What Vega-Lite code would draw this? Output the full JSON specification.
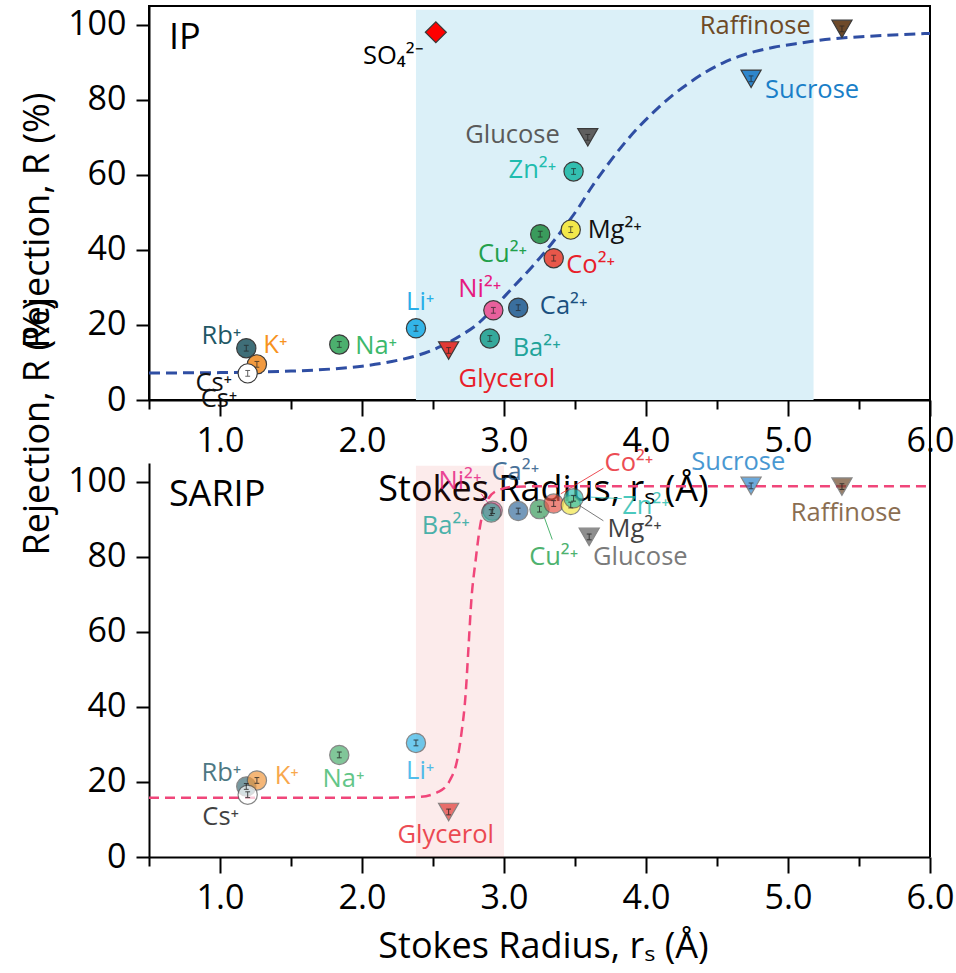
{
  "$schema": "https://vega.github.io/schema/vega-lite/v6.json",
  "padding": {"left": 17, "top": 5, "right": 5, "bottom": 5},
  "bounds": "flush",
  "spacing": 63,
  "config": {
    "font": "Open Sans",
    "view": {"stroke": null},
    "axis": {"grid": false, "domainColor": "#000", "domainWidth": 2, "tickColor": "#000", "tickWidth": 2, "labelFont": "Open Sans", "labelFontSize": 34, "labelColor": "#000", "titleFont": "Open Sans", "titleFontSize": 36, "titleFontWeight": "normal", "titleColor": "#000", "labelFlush": false, "labelOverlap": false, "labelBound": false},
    "text": {"font": "Open Sans"}
  },
  "datasets": {
    "pts": [
      {"p": "IP", "k": "SO4", "s": "anion", "x": 2.52, "y": 98.0},
      {"p": "IP", "k": "Raffinose", "s": "sugar", "x": 5.38, "y": 98.9},
      {"p": "IP", "k": "Sucrose", "s": "sugar", "x": 4.74, "y": 85.6},
      {"p": "IP", "k": "Glucose", "s": "sugar", "x": 3.59, "y": 70.0},
      {"p": "IP", "k": "Glycerol", "s": "sugar", "x": 2.61, "y": 13.2},
      {"p": "IP", "k": "Rb", "s": "ion", "x": 1.185, "y": 13.8},
      {"p": "IP", "k": "K", "s": "ion", "x": 1.26, "y": 9.5},
      {"p": "IP", "k": "Cs", "s": "ion", "x": 1.195, "y": 7.1},
      {"p": "IP", "k": "Na", "s": "ion", "x": 1.84, "y": 14.8},
      {"p": "IP", "k": "Li", "s": "ion", "x": 2.38, "y": 19.1},
      {"p": "IP", "k": "Ba", "s": "ion", "x": 2.90, "y": 16.4},
      {"p": "IP", "k": "Ni", "s": "ion", "x": 2.925, "y": 23.9},
      {"p": "IP", "k": "Ca", "s": "ion", "x": 3.10, "y": 24.6},
      {"p": "IP", "k": "Cu", "s": "ion", "x": 3.255, "y": 44.2},
      {"p": "IP", "k": "Co", "s": "ion", "x": 3.35, "y": 37.8},
      {"p": "IP", "k": "Mg", "s": "ion", "x": 3.47, "y": 45.4},
      {"p": "IP", "k": "Zn", "s": "ion", "x": 3.49, "y": 60.9},
      {"p": "SARIP", "k": "Raffinose", "s": "sugar", "x": 5.38, "y": 98.7},
      {"p": "SARIP", "k": "Sucrose", "s": "sugar", "x": 4.74, "y": 98.9},
      {"p": "SARIP", "k": "Glucose", "s": "sugar", "x": 3.60, "y": 85.3},
      {"p": "SARIP", "k": "Glycerol", "s": "sugar", "x": 2.61, "y": 12.0},
      {"p": "SARIP", "k": "Rb", "s": "ion", "x": 1.185, "y": 18.8},
      {"p": "SARIP", "k": "K", "s": "ion", "x": 1.26, "y": 20.4},
      {"p": "SARIP", "k": "Cs", "s": "ion", "x": 1.195, "y": 16.6},
      {"p": "SARIP", "k": "Na", "s": "ion", "x": 1.84, "y": 27.2},
      {"p": "SARIP", "k": "Li", "s": "ion", "x": 2.38, "y": 30.4},
      {"p": "SARIP", "k": "Ni", "s": "ion", "x": 2.92, "y": 92.3},
      {"p": "SARIP", "k": "Ba", "s": "ion", "x": 2.91, "y": 91.8},
      {"p": "SARIP", "k": "Ca", "s": "ion", "x": 3.10, "y": 92.2},
      {"p": "SARIP", "k": "Cu", "s": "ion", "x": 3.25, "y": 92.7},
      {"p": "SARIP", "k": "Co", "s": "ion", "x": 3.35, "y": 94.2},
      {"p": "SARIP", "k": "Mg", "s": "ion", "x": 3.47, "y": 93.8},
      {"p": "SARIP", "k": "Zn", "s": "ion", "x": 3.49, "y": 95.6}
    ],
    "labels": [
      {"p": "IP", "k": "Raffinose", "t": "Raffinose", "x": 4.77, "y": 99.7},
      {"p": "IP", "k": "Sucrose", "t": "Sucrose", "x": 5.17, "y": 82.5},
      {"p": "IP", "k": "Glucose", "t": "Glucose", "x": 3.06, "y": 70.7},
      {"p": "IP", "k": "Zn", "t": "Zn²⁺", "x": 3.20, "y": 61.2},
      {"p": "IP", "k": "Mg", "t": "Mg²⁺", "x": 3.78, "y": 45.2},
      {"p": "IP", "k": "Cu", "t": "Cu²⁺", "x": 2.99, "y": 38.9},
      {"p": "IP", "k": "Co", "t": "Co²⁺", "x": 3.61, "y": 36.0},
      {"p": "IP", "k": "Ni", "t": "Ni²⁺", "x": 2.83, "y": 29.7},
      {"p": "IP", "k": "Ca", "t": "Ca²⁺", "x": 3.42, "y": 25.1},
      {"p": "IP", "k": "Ba", "t": "Ba²⁺", "x": 3.23, "y": 13.8},
      {"p": "IP", "k": "Li", "t": "Li⁺", "x": 2.41, "y": 26.2},
      {"p": "IP", "k": "Na", "t": "Na⁺", "x": 2.10, "y": 14.4},
      {"p": "IP", "k": "Glycerol", "t": "Glycerol", "x": 3.02, "y": 5.5},
      {"p": "IP", "k": "SO4", "t": "SO₄²⁻", "x": 2.22, "y": 91.6},
      {"p": "IP", "k": "Rb", "t": "Rb⁺", "x": 1.01, "y": 17.1},
      {"p": "IP", "k": "K", "t": "K⁺", "x": 1.39, "y": 14.7},
      {"p": "IP", "k": "Cs", "t": "Cs⁺", "x": 0.956, "y": 4.4},
      {"p": "IP", "k": "Cs", "t": "Cs⁺", "x": 0.993, "y": 0.3},
      {"p": "SARIP", "k": "Ni", "t": "Ni²⁺", "x": 2.69, "y": 100.1},
      {"p": "SARIP", "k": "Ca", "t": "Ca²⁺", "x": 3.08, "y": 102.7},
      {"p": "SARIP", "k": "Co", "t": "Co²⁺", "x": 3.88, "y": 105.0},
      {"p": "SARIP", "k": "Sucrose", "t": "Sucrose", "x": 4.65, "y": 105.2},
      {"p": "SARIP", "k": "Zn", "t": "Zn²⁺", "x": 4.0, "y": 93.5},
      {"p": "SARIP", "k": "Mg", "t": "Mg²⁺", "x": 3.92, "y": 87.5},
      {"p": "SARIP", "k": "Glucose", "t": "Glucose", "x": 3.96, "y": 80.0},
      {"p": "SARIP", "k": "Cu", "t": "Cu²⁺", "x": 3.35, "y": 80.0},
      {"p": "SARIP", "k": "Ba", "t": "Ba²⁺", "x": 2.59, "y": 88.1},
      {"p": "SARIP", "k": "Raffinose", "t": "Raffinose", "x": 5.41, "y": 91.7},
      {"p": "SARIP", "k": "Li", "t": "Li⁺", "x": 2.41, "y": 23.0},
      {"p": "SARIP", "k": "Na", "t": "Na⁺", "x": 1.87, "y": 20.9},
      {"p": "SARIP", "k": "Glycerol", "t": "Glycerol", "x": 2.59, "y": 5.9},
      {"p": "SARIP", "k": "Rb", "t": "Rb⁺", "x": 1.01, "y": 22.4},
      {"p": "SARIP", "k": "K", "t": "K⁺", "x": 1.47, "y": 21.5},
      {"p": "SARIP", "k": "Cs", "t": "Cs⁺", "x": 1.005, "y": 10.7}
    ],
    "leaders": [
      {"k": "Co", "x": 3.70, "y": 103.6, "x2": 3.40, "y2": 96.8},
      {"k": "Cu", "x": 3.34, "y": 84.6, "x2": 3.28, "y2": 90.9},
      {"k": "Glucose", "x": 3.70, "y": 89.6, "x2": 3.53, "y2": 93.7},
      {"k": "Ni", "x": 2.84, "y": 96.8, "x2": 2.90, "y2": 93.7},
      {"k": "Zn", "x": 3.83, "y": 95.5, "x2": 3.61, "y2": 95.9}
    ],
    "curve": [
      {"p": "IP", "x": 0.5, "y": 7.2}, {"p": "IP", "x": 1.0, "y": 7.3}, {"p": "IP", "x": 1.5, "y": 7.7},
      {"p": "IP", "x": 1.8, "y": 8.3}, {"p": "IP", "x": 2.0, "y": 9.0}, {"p": "IP", "x": 2.2, "y": 10.2},
      {"p": "IP", "x": 2.4, "y": 12.0}, {"p": "IP", "x": 2.55, "y": 14.2}, {"p": "IP", "x": 2.7, "y": 17.3},
      {"p": "IP", "x": 2.8, "y": 19.8}, {"p": "IP", "x": 2.915, "y": 24.0}, {"p": "IP", "x": 3.05, "y": 29.5},
      {"p": "IP", "x": 3.2, "y": 35.6}, {"p": "IP", "x": 3.3, "y": 40.0}, {"p": "IP", "x": 3.41, "y": 45.3},
      {"p": "IP", "x": 3.52, "y": 51.0}, {"p": "IP", "x": 3.62, "y": 56.9}, {"p": "IP", "x": 3.72, "y": 62.2},
      {"p": "IP", "x": 3.83, "y": 67.6}, {"p": "IP", "x": 3.95, "y": 72.8}, {"p": "IP", "x": 4.07, "y": 77.3},
      {"p": "IP", "x": 4.18, "y": 81.0}, {"p": "IP", "x": 4.3, "y": 84.4}, {"p": "IP", "x": 4.42, "y": 87.4},
      {"p": "IP", "x": 4.54, "y": 89.8}, {"p": "IP", "x": 4.65, "y": 91.5}, {"p": "IP", "x": 4.77, "y": 92.9},
      {"p": "IP", "x": 4.9, "y": 94.0}, {"p": "IP", "x": 5.08, "y": 95.1}, {"p": "IP", "x": 5.3, "y": 96.2},
      {"p": "IP", "x": 5.55, "y": 96.9}, {"p": "IP", "x": 5.8, "y": 97.4}, {"p": "IP", "x": 6.0, "y": 97.7},
      {"p": "SARIP", "x": 0.5, "y": 15.8}, {"p": "SARIP", "x": 2.14, "y": 15.8}, {"p": "SARIP", "x": 2.4, "y": 16.0},
      {"p": "SARIP", "x": 2.54, "y": 17.4}, {"p": "SARIP", "x": 2.62, "y": 20.5}, {"p": "SARIP", "x": 2.67, "y": 25.8},
      {"p": "SARIP", "x": 2.70, "y": 32.9}, {"p": "SARIP", "x": 2.73, "y": 43.5}, {"p": "SARIP", "x": 2.75, "y": 55.9},
      {"p": "SARIP", "x": 2.77, "y": 68.4}, {"p": "SARIP", "x": 2.80, "y": 79.0}, {"p": "SARIP", "x": 2.83, "y": 87.8},
      {"p": "SARIP", "x": 2.88, "y": 94.9}, {"p": "SARIP", "x": 2.95, "y": 97.6}, {"p": "SARIP", "x": 3.08, "y": 98.7},
      {"p": "SARIP", "x": 3.3, "y": 98.8}, {"p": "SARIP", "x": 6.0, "y": 98.8}
    ],
    "regions": [
      {"p": "IP", "x": 2.38, "x2": 5.18, "y": 0, "y2": 104},
      {"p": "SARIP", "x": 2.38, "x2": 3.0, "y": 0, "y2": 104.3}
    ],
    "frame": [
      {"x": 6.0, "y": 0, "y2": 122}
    ],
    "panels": [
      {"p": "IP", "t": "IP", "x": 0.64, "y": 96.5},
      {"p": "SARIP", "t": "SARIP", "x": 0.64, "y": 96.4}
    ]
  },
  "vconcat": [
    {
      "width": 781,
      "height": 394,
      "view": {"stroke": "#000", "strokeWidth": 2},
      "layer": [
        {
          "data": {"name": "regions"},
          "transform": [{"filter": "datum.p === 'IP'"}],
          "mark": {"type": "rect", "color": "#dbf0f8"},
          "encoding": {
            "x": {"field": "x", "type": "quantitative", "scale": {"domain": [0.5, 6], "nice": false, "zero": false},
              "axis": {"values": [0.5, 1, 1.5, 2, 2.5, 3, 3.5, 4, 4.5, 5, 5.5, 6], "labelExpr": "datum.value % 1 === 0 ? format(datum.value, '.1f') : ''", "tickSize": {"condition": {"test": "datum.value % 1 === 0", "value": 16}, "value": 9}, "labelPadding": 8, "title": "Stokes Radius, rₛ (Å)", "titleY": 89, "titleX": 394, "titleBaseline": "middle"}},
            "x2": {"field": "x2"},
            "y": {"field": "y", "type": "quantitative", "scale": {"domain": [0, 105], "nice": false, "zero": false},
              "axis": {"values": [0, 10, 20, 30, 40, 50, 60, 70, 80, 90, 100], "labelExpr": "datum.value % 20 === 0 ? datum.label : ''", "tickSize": {"condition": {"test": "datum.value % 20 === 0", "value": 13}, "value": 7}, "labelPadding": 10, "title": "Rejection, R (%)", "titleX": -112, "titleY": 214, "titleBaseline": "middle"}},
            "y2": {"field": "y2"}
          }
        },
        {
          "data": {"name": "curve"},
          "transform": [{"filter": "datum.p === 'IP'"}],
          "mark": {"type": "line", "color": "#2f4ea3", "strokeWidth": 3, "strokeDash": [11, 6], "interpolate": "monotone"},
          "encoding": {
            "x": {"field": "x", "type": "quantitative", "scale": {"domain": [0.5, 6], "nice": false, "zero": false}},
            "y": {"field": "y", "type": "quantitative", "scale": {"domain": [0, 105], "nice": false, "zero": false}}
          }
        },
        {
          "data": {"name": "pts"},
          "transform": [{"filter": "datum.p === 'IP'"}],
          "mark": {"type": "point", "filled": true, "stroke": "#3a3a3a", "opacity": 1},
          "encoding": {
            "x": {"field": "x", "type": "quantitative", "scale": {"domain": [0.5, 6], "nice": false, "zero": false}},
            "y": {"field": "y", "type": "quantitative", "scale": {"domain": [0, 105], "nice": false, "zero": false}},
            "shape": {"field": "s", "type": "nominal", "scale": {"domain": ["ion", "sugar", "anion"], "range": ["circle", "triangle-down", "diamond"]}, "legend": null},
            "size": {"field": "s", "type": "nominal", "scale": {"domain": ["ion", "sugar", "anion"], "range": [370, 440, 780]}, "legend": null},
            "strokeWidth": {"field": "s", "type": "nominal", "scale": {"domain": ["ion", "sugar", "anion"], "range": [1.2, 1.2, 0]}, "legend": null},
            "fill": {"field": "k", "type": "nominal", "scale": {"domain": ["Rb", "K", "Cs", "Na", "Li", "Ni", "Ca", "Ba", "Cu", "Co", "Mg", "Zn", "Glycerol", "Glucose", "Sucrose", "Raffinose", "SO4"], "range": ["#3f6e78", "#f29a3f", "#ffffff", "#4caf6e", "#33b5e8", "#e8609c", "#3a6f9e", "#35a99c", "#3a9b5c", "#e8574a", "#f3e84a", "#33bfb0", "#e23a35", "#5f5f5f", "#2e86cc", "#6e4a2a", "#ff0000"]}, "legend": null}
          }
        },
        {
          "data": {"name": "pts"},
          "transform": [{"filter": "datum.p === 'IP' && datum.s !== 'anion'"}],
          "mark": {"type": "point", "filled": false, "stroke": "#222", "strokeWidth": 1, "size": 370, "shape": "M -0.25 -0.3 L 0.25 -0.3 M 0 -0.3 L 0 0.3 M -0.25 0.3 L 0.25 0.3"},
          "encoding": {
            "x": {"field": "x", "type": "quantitative", "scale": {"domain": [0.5, 6], "nice": false, "zero": false}},
            "y": {"field": "y", "type": "quantitative", "scale": {"domain": [0, 105], "nice": false, "zero": false}}
          }
        },
        {
          "data": {"name": "labels"},
          "transform": [{"filter": "datum.p === 'IP'"}],
          "mark": {"type": "text", "fontSize": 25.5, "align": "center", "baseline": "middle"},
          "encoding": {
            "x": {"field": "x", "type": "quantitative", "scale": {"domain": [0.5, 6], "nice": false, "zero": false}},
            "y": {"field": "y", "type": "quantitative", "scale": {"domain": [0, 105], "nice": false, "zero": false}},
            "text": {"field": "t"},
            "color": {"field": "k", "type": "nominal", "scale": {"domain": ["Rb", "K", "Cs", "Na", "Li", "Ni", "Ca", "Ba", "Cu", "Co", "Mg", "Zn", "Glycerol", "Glucose", "Sucrose", "Raffinose", "SO4"], "range": ["#1f5866", "#f7931e", "#111111", "#3cb86b", "#29aee8", "#e6197f", "#1b5080", "#20a39a", "#22a04b", "#e8202a", "#111111", "#1fbcae", "#e8202a", "#5a5a5a", "#1a7fc8", "#6e4a26", "#000000"]}, "legend": null}
          }
        },
        {
          "data": {"name": "panels"},
          "transform": [{"filter": "datum.p === 'IP'"}],
          "mark": {"type": "text", "fontSize": 36, "align": "left", "baseline": "middle", "color": "#000"},
          "encoding": {
            "x": {"field": "x", "type": "quantitative", "scale": {"domain": [0.5, 6], "nice": false, "zero": false}},
            "y": {"field": "y", "type": "quantitative", "scale": {"domain": [0, 105], "nice": false, "zero": false}},
            "text": {"field": "t"}
          }
        }
      ]
    },
    {
      "width": 781,
      "height": 394,
      "layer": [
        {
          "data": {"name": "regions"},
          "transform": [{"filter": "datum.p === 'SARIP'"}],
          "mark": {"type": "rect", "color": "#e84a4a", "opacity": 0.11},
          "encoding": {
            "x": {"field": "x", "type": "quantitative", "scale": {"domain": [0.5, 6], "nice": false, "zero": false},
              "axis": {"values": [0.5, 1, 1.5, 2, 2.5, 3, 3.5, 4, 4.5, 5, 5.5, 6], "labelExpr": "datum.value % 1 === 0 ? format(datum.value, '.1f') : ''", "tickSize": {"condition": {"test": "datum.value % 1 === 0", "value": 16}, "value": 9}, "labelPadding": 8, "title": "Stokes Radius, rₛ (Å)", "titleY": 89, "titleX": 394, "titleBaseline": "middle"}},
            "x2": {"field": "x2"},
            "y": {"field": "y", "type": "quantitative", "scale": {"domain": [0, 105], "nice": false, "zero": false},
              "axis": {"values": [0, 10, 20, 30, 40, 50, 60, 70, 80, 90, 100], "labelExpr": "datum.value % 20 === 0 ? datum.label : ''", "tickSize": {"condition": {"test": "datum.value % 20 === 0", "value": 13}, "value": 7}, "labelPadding": 10, "title": "Rejection, R (%)", "titleX": -112, "titleY": -36, "titleBaseline": "middle"}},
            "y2": {"field": "y2"}
          }
        },
        {
          "data": {"name": "frame"},
          "mark": {"type": "rule", "color": "#000", "strokeWidth": 2},
          "encoding": {
            "x": {"field": "x", "type": "quantitative", "scale": {"domain": [0.5, 6], "nice": false, "zero": false}},
            "y": {"field": "y", "type": "quantitative", "scale": {"domain": [0, 105], "nice": false, "zero": false}},
            "y2": {"field": "y2"}
          }
        },
        {
          "data": {"name": "leaders"},
          "mark": {"type": "rule", "strokeWidth": 1, "opacity": 0.8},
          "encoding": {
            "x": {"field": "x", "type": "quantitative", "scale": {"domain": [0.5, 6], "nice": false, "zero": false}},
            "y": {"field": "y", "type": "quantitative", "scale": {"domain": [0, 105], "nice": false, "zero": false}},
            "x2": {"field": "x2"},
            "y2": {"field": "y2"},
            "color": {"field": "k", "type": "nominal", "scale": {"domain": ["Rb", "K", "Cs", "Na", "Li", "Ni", "Ca", "Ba", "Cu", "Co", "Mg", "Zn", "Glycerol", "Glucose", "Sucrose", "Raffinose", "SO4"], "range": ["#1f5866", "#f7931e", "#111111", "#3cb86b", "#29aee8", "#e6197f", "#1b5080", "#20a39a", "#22a04b", "#e8202a", "#111111", "#1fbcae", "#e8202a", "#5a5a5a", "#1a7fc8", "#6e4a26", "#000000"]}, "legend": null}
          }
        },
        {
          "data": {"name": "curve"},
          "transform": [{"filter": "datum.p === 'SARIP'"}],
          "mark": {"type": "line", "color": "#f0467a", "strokeWidth": 2.5, "strokeDash": [10, 6], "interpolate": "monotone"},
          "encoding": {
            "x": {"field": "x", "type": "quantitative", "scale": {"domain": [0.5, 6], "nice": false, "zero": false}},
            "y": {"field": "y", "type": "quantitative", "scale": {"domain": [0, 105], "nice": false, "zero": false}}
          }
        },
        {
          "data": {"name": "pts"},
          "transform": [{"filter": "datum.p === 'SARIP'"}],
          "mark": {"type": "point", "filled": true, "stroke": "#555", "opacity": 0.7},
          "encoding": {
            "x": {"field": "x", "type": "quantitative", "scale": {"domain": [0.5, 6], "nice": false, "zero": false}},
            "y": {"field": "y", "type": "quantitative", "scale": {"domain": [0, 105], "nice": false, "zero": false}},
            "shape": {"field": "s", "type": "nominal", "scale": {"domain": ["ion", "sugar", "anion"], "range": ["circle", "triangle-down", "diamond"]}, "legend": null},
            "size": {"field": "s", "type": "nominal", "scale": {"domain": ["ion", "sugar", "anion"], "range": [370, 440, 780]}, "legend": null},
            "strokeWidth": {"field": "s", "type": "nominal", "scale": {"domain": ["ion", "sugar", "anion"], "range": [1.2, 1.2, 0]}, "legend": null},
            "fill": {"field": "k", "type": "nominal", "scale": {"domain": ["Rb", "K", "Cs", "Na", "Li", "Ni", "Ca", "Ba", "Cu", "Co", "Mg", "Zn", "Glycerol", "Glucose", "Sucrose", "Raffinose", "SO4"], "range": ["#3f6e78", "#f29a3f", "#ffffff", "#4caf6e", "#33b5e8", "#e8609c", "#3a6f9e", "#35a99c", "#3a9b5c", "#e8574a", "#f3e84a", "#33bfb0", "#e23a35", "#5f5f5f", "#2e86cc", "#6e4a2a", "#ff0000"]}, "legend": null}
          }
        },
        {
          "data": {"name": "pts"},
          "transform": [{"filter": "datum.p === 'SARIP' && datum.s !== 'anion'"}],
          "mark": {"type": "point", "filled": false, "stroke": "#222", "strokeWidth": 1, "size": 370, "opacity": 0.8, "shape": "M -0.25 -0.3 L 0.25 -0.3 M 0 -0.3 L 0 0.3 M -0.25 0.3 L 0.25 0.3"},
          "encoding": {
            "x": {"field": "x", "type": "quantitative", "scale": {"domain": [0.5, 6], "nice": false, "zero": false}},
            "y": {"field": "y", "type": "quantitative", "scale": {"domain": [0, 105], "nice": false, "zero": false}}
          }
        },
        {
          "data": {"name": "labels"},
          "transform": [{"filter": "datum.p === 'SARIP'"}],
          "mark": {"type": "text", "fontSize": 25.5, "align": "center", "baseline": "middle", "opacity": 0.8},
          "encoding": {
            "x": {"field": "x", "type": "quantitative", "scale": {"domain": [0.5, 6], "nice": false, "zero": false}},
            "y": {"field": "y", "type": "quantitative", "scale": {"domain": [0, 105], "nice": false, "zero": false}},
            "text": {"field": "t"},
            "color": {"field": "k", "type": "nominal", "scale": {"domain": ["Rb", "K", "Cs", "Na", "Li", "Ni", "Ca", "Ba", "Cu", "Co", "Mg", "Zn", "Glycerol", "Glucose", "Sucrose", "Raffinose", "SO4"], "range": ["#1f5866", "#f7931e", "#111111", "#3cb86b", "#29aee8", "#e6197f", "#1b5080", "#20a39a", "#22a04b", "#e8202a", "#111111", "#1fbcae", "#e8202a", "#5a5a5a", "#1a7fc8", "#6e4a26", "#000000"]}, "legend": null}
          }
        },
        {
          "data": {"name": "panels"},
          "transform": [{"filter": "datum.p === 'SARIP'"}],
          "mark": {"type": "text", "fontSize": 36, "align": "left", "baseline": "middle", "color": "#000"},
          "encoding": {
            "x": {"field": "x", "type": "quantitative", "scale": {"domain": [0.5, 6], "nice": false, "zero": false}},
            "y": {"field": "y", "type": "quantitative", "scale": {"domain": [0, 105], "nice": false, "zero": false}},
            "text": {"field": "t"}
          }
        }
      ]
    }
  ]
}
